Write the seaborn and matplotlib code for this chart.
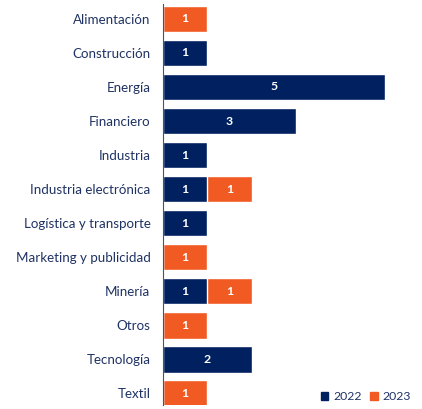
import matplotlib
matplotlib.use("Agg")
import matplotlib.pyplot as plt
import seaborn as sns
import pandas as pd
from matplotlib.patches import Patch

# Data
categories = ["Alimentación", "Construcción", "Energía", "Financiero", "Industria",
              "Industria electrónica", "Logística y transporte", "Marketing y publicidad",
              "Minería", "Otros", "Tecnología", "Textil"]
values_2022 = [0, 1, 5, 3, 1, 1, 1, 0, 1, 0, 2, 0]
values_2023 = [1, 0, 0, 0, 0, 1, 0, 1, 1, 1, 0, 1]

NAVY = "#002060"
ORANGE = "#F15A22"
TEXT = "#1F3264"

df = pd.DataFrame({"cat": categories, "y2022": values_2022, "y2023": values_2023})
df["total"] = df["y2022"] + df["y2023"]

sns.set_style("white")
plt.rcParams["font.family"] = ["Lato", "DejaVu Sans"]

fig = plt.figure(figsize=(4.22, 4.09), dpi=100)
ax = fig.add_axes([163 / 422, 4 / 409, 1 - 163 / 422, 401 / 409])

# orange total behind, navy 2022 on top -> stacked look
sns.barplot(data=df, y="cat", x="total", color=ORANGE, orient="h", width=0.79,
            saturation=1, ax=ax)
sns.barplot(data=df, y="cat", x="y2022", color=NAVY, orient="h", width=0.79,
            saturation=1, ax=ax)

for i, row in df.iterrows():
    if row["y2022"] > 0:
        ax.text(row["y2022"] / 2, i, str(row["y2022"]), color="white", fontsize=8.8,
                fontweight="bold", ha="center", va="center")
    if row["y2023"] > 0:
        ax.text(row["y2022"] + row["y2023"] / 2, i, str(row["y2023"]), color="white",
                fontsize=8.8, fontweight="bold", ha="center", va="center")

ax.set_xlim(0, (422 - 163) / 44.4)
ax.set_ylim(11.35, -0.44)
ax.set_xlabel("")
ax.set_ylabel("")
ax.set_xticks([])
ax.tick_params(axis="y", length=0, pad=9, labelsize=9.6, labelcolor=TEXT)
for s in ["top", "right", "bottom"]:
    ax.spines[s].set_visible(False)
ax.spines["left"].set_color("#44546A")
ax.spines["left"].set_linewidth(0.8)

handles = [Patch(color=NAVY, label="2022"), Patch(color=ORANGE, label="2023")]
fig.legend(handles=handles, loc="lower right", bbox_to_anchor=(1.0, -0.01), ncol=2,
           frameon=False, fontsize=8.8, labelcolor=TEXT, handlelength=0.6,
           handleheight=0.6, handletextpad=0.4, columnspacing=0.7)

fig.savefig("out.png", dpi=100)
